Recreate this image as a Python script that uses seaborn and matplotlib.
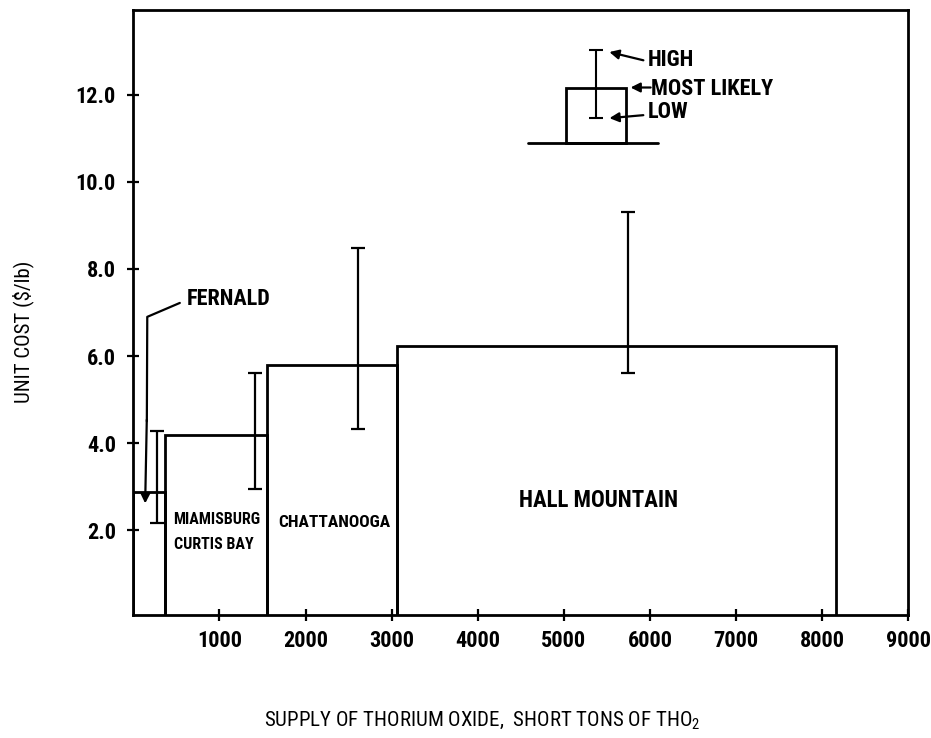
import matplotlib
matplotlib.use("Agg")
import matplotlib.pyplot as plt
from matplotlib import font_manager
import seaborn as sns
import pandas as pd

# Custo unitario do ThO2 por fonte (curva de oferta em degraus)
sources = ["FERNALD", "MIAMISBURG\nCURTIS BAY", "CHATTANOOGA", "HALL MOUNTAIN"]
supply_start = [0, 366, 1550, 3057]
supply_end = [366, 1550, 3057, 8155]
cost_likely = [2.87, 4.18, 5.80, 6.22]
err_x = [270, 1418, 2612, 5750]
cost_low = [2.16, 2.94, 4.33, 5.61]
cost_high = [4.27, 5.60, 8.49, 9.30]

# chave (legenda) no canto superior
key_x = [5030, 5723]
key_base_x = [4585, 6088]
key_likely = 12.15
key_base = 10.89
key_err_x = 5370
key_low = 11.46
key_high = 13.03

x_ticks = [1000, 2000, 3000, 4000, 5000, 6000, 7000, 8000, 9000]
y_ticks = [2.0, 4.0, 6.0, 8.0, 10.0, 12.0]

df = pd.DataFrame({"fonte": sources, "ini": supply_start, "fim": supply_end,
                   "custo": cost_likely, "ex": err_x, "low": cost_low, "high": cost_high})
df["largura"] = df["fim"] - df["ini"]

sns.set_style("ticks")
installed = {f.name for f in font_manager.fontManager.ttflist}
fam = [f for f in ["Roboto Condensed", "DejaVu Sans Condensed", "Liberation Sans Narrow"]
       if f in installed] + ["DejaVu Sans"]
plt.rcParams["font.family"] = fam
plt.rcParams["font.stretch"] = "condensed"
plt.rcParams["text.color"] = "black"
plt.rcParams["axes.labelcolor"] = "black"
plt.rcParams["xtick.color"] = "black"
plt.rcParams["ytick.color"] = "black"
plt.rcParams["axes.edgecolor"] = "black"

fig = plt.figure(figsize=(9.31, 7.38), dpi=100)
ax = fig.add_axes([0.1432, 0.1667, 0.8324, 0.8197])

ax.bar(df["ini"], df["custo"], width=df["largura"], align="edge",
       fill=False, edgecolor="black", linewidth=2.0)
ax.errorbar(df["ex"], df["low"], yerr=[[0] * len(df), df["high"] - df["low"]],
            fmt="none", ecolor="black", elinewidth=1.6, capsize=5, capthick=1.6)

# chave
ax.plot(key_base_x, [key_base, key_base], color="black", lw=2.0)
ax.bar([key_x[0]], [key_likely - key_base], bottom=key_base, width=key_x[1] - key_x[0],
       align="edge", fill=False, edgecolor="black", linewidth=2.0)
ax.errorbar([key_err_x], [key_low], yerr=[[0], [key_high - key_low]],
            fmt="none", ecolor="black", elinewidth=1.5, capsize=5, capthick=1.5)

arrow = dict(arrowstyle="-|>", color="black", lw=1.6, mutation_scale=14)
ax.annotate("", xy=(5497, 13.0), xytext=(5955, 12.78), arrowprops=arrow)
ax.annotate("", xy=(5742, 12.17), xytext=(6040, 12.17), arrowprops=arrow)
ax.annotate("", xy=(5497, 11.46), xytext=(5955, 11.54), arrowprops=arrow)
ax.text(5975, 12.8, "HIGH", fontsize=16, fontweight="bold", va="center", family=fam)
ax.text(6010, 12.13, "MOST LIKELY", fontsize=16, fontweight="bold", va="center", family=fam)
ax.text(5975, 11.6, "LOW", fontsize=16, fontweight="bold", va="center", family=fam)

# Fernald
ax.plot([540, 162, 157], [7.22, 6.9, 4.5], color="black", lw=1.6)
ax.annotate("", xy=(137, 2.55), xytext=(157, 4.6), arrowprops=arrow)
ax.text(617, 7.31, "FERNALD", fontsize=16, fontweight="bold", va="center", family=fam)

ax.text(463, 2.25, "MIAMISBURG", fontsize=11.5, fontweight="bold", va="center", family=fam)
ax.text(474, 1.67, "CURTIS BAY", fontsize=11.5, fontweight="bold", va="center", family=fam)
ax.text(1688, 2.17, "CHATTANOOGA", fontsize=12.5, fontweight="bold", va="center", family=fam)
ax.text(5400, 2.68, "HALL MOUNTAIN", fontsize=16.5, fontweight="bold", va="center",
        ha="center", family=fam)

ax.set_xlim(0, 9000)
ax.set_ylim(0.05, 13.95)
ax.set_xticks(x_ticks)
ax.set_yticks(y_ticks)
ax.set_yticklabels([f"{v:.1f}" for v in y_ticks])
ax.tick_params(direction="inout", length=9, width=1.6, labelsize=16, pad=8)
ax.tick_params(axis="x", pad=6)
for lbl in ax.get_xticklabels() + ax.get_yticklabels():
    lbl.set_fontweight("bold")
for s in ax.spines.values():
    s.set_linewidth(2.0)

ax.set_xlabel(r"SUPPLY OF THORIUM OXIDE,  SHORT TONS OF THO$_\mathregular{2}$",
              fontsize=15, labelpad=42)
ax.set_ylabel(r"UNIT COST (\$/lb)", fontsize=15, labelpad=30)
ax.xaxis.label.set_x(0.45)
ax.yaxis.label.set_y(0.468)

plt.savefig("out.png", dpi=100)
plt.close()
